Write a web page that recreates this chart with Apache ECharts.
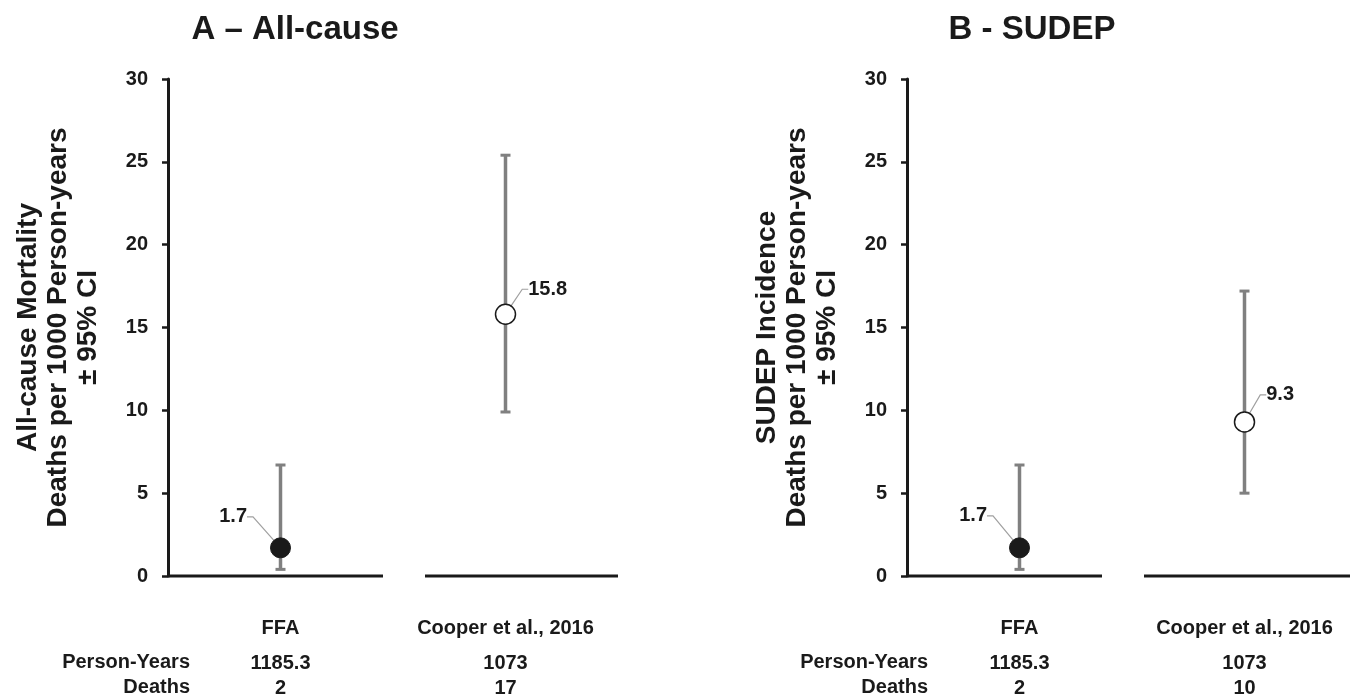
<!DOCTYPE html>
<html>
<head>
<meta charset="utf-8">
<script src="https://cdn.jsdelivr.net/npm/echarts@6/dist/echarts.min.js"></script>
<style>
  html, body { margin: 0; padding: 0; background: #fff; }
  #chart { width: 1350px; height: 699px; }
</style>
</head>
<body>
<div id="chart"></div>
<script>
const categories = ['FFA', 'Cooper et al., 2016']
const personYears = ['1185.3', '1073']

// A - all-cause mortality per 1000 person-years
const allCauseDeaths = [2, 17]
const allCauseRate = [1.7, 15.8]
const allCauseLow = [0.4, 9.9]
const allCauseHigh = [6.7, 25.4]

// B - SUDEP incidence per 1000 person-years
const sudepDeaths = [2, 10]
const sudepRate = [1.7, 9.3]
const sudepLow = [0.4, 5.0]
const sudepHigh = [6.7, 17.2]

const FONT = '"Liberation Sans", Arial, Helvetica, sans-serif'
const INK = '#1a1a1a'
const BAR = '#808080'

const chart = echarts.init(document.getElementById('chart'))

function errorBar(params, api) {
  const top = api.coord([api.value(0), api.value(2)])
  const bot = api.coord([api.value(0), api.value(1)])
  const cap = 5
  return {
    type: 'group',
    children: [
      { type: 'line', shape: { x1: top[0], y1: top[1], x2: bot[0], y2: bot[1] }, style: { stroke: BAR, lineWidth: 3.5 } },
      { type: 'line', shape: { x1: top[0] - cap, y1: top[1], x2: top[0] + cap, y2: top[1] }, style: { stroke: BAR, lineWidth: 3 } },
      { type: 'line', shape: { x1: bot[0] - cap, y1: bot[1], x2: bot[0] + cap, y2: bot[1] }, style: { stroke: BAR, lineWidth: 3 } }
    ]
  }
}

// broken baseline: one segment per category, with a gap between them
function baseline(gapLeft, gapRight) {
  return function (params, api) {
    const i = api.value(0)
    const c = api.coord([i, 0])
    const band = api.size([1, 0])[0]
    let x1 = c[0] - band / 2
    let x2 = c[0] + band / 2
    if (i === 0) x2 -= gapLeft
    else x1 += gapRight
    return {
      type: 'line',
      shape: { x1: x1, y1: c[1], x2: x2, y2: c[1] },
      style: { stroke: INK, lineWidth: 3 }
    }
  }
}

function xAxis(gridIndex, deaths) {
  return {
    type: 'category',
    gridIndex: gridIndex,
    data: categories,
    axisLine: { show: false },
    axisTick: { show: false },
    axisLabel: {
      margin: 30,
      interval: 0,
      formatter: (v, i) => `{n|${v}}\n{p|${personYears[i]}}\n{d|${deaths[i]}}`,
      rich: {
        n: { fontFamily: FONT, fontWeight: 'bold', fontSize: 20, color: INK, lineHeight: 45 },
        p: { fontFamily: FONT, fontWeight: 'bold', fontSize: 20, color: INK, lineHeight: 25 },
        d: { fontFamily: FONT, fontWeight: 'bold', fontSize: 20, color: INK, lineHeight: 25 }
      }
    }
  }
}

function yAxis(gridIndex, name) {
  return {
    type: 'value',
    gridIndex: gridIndex,
    min: 0,
    max: 30,
    interval: 5,
    name: name,
    nameLocation: 'middle',
    nameRotate: 90,
    nameGap: 65,
    nameTextStyle: { fontFamily: FONT, fontWeight: 'bold', fontSize: 28, color: INK, lineHeight: 30 },
    axisLine: { show: true, lineStyle: { color: INK, width: 3 } },
    axisTick: { show: true, length: 6, lineStyle: { color: INK, width: 2.5 } },
    axisLabel: { margin: 20, fontFamily: FONT, fontWeight: 'bold', fontSize: 20, color: INK },
    splitLine: { show: false }
  }
}

function points(idx, rates, labelOffsets) {
  return {
    type: 'scatter',
    xAxisIndex: idx,
    yAxisIndex: idx,
    z: 5,
    symbolSize: 20,
    data: rates.map((r, i) => ({
      value: [i, r],
      itemStyle: i === 0
        ? { color: INK, borderColor: INK, borderWidth: 1, opacity: 1 }
        : { color: '#fff', borderColor: INK, borderWidth: 1.5, opacity: 1 },
      label: { position: i === 0 ? 'left' : 'right' }
    })),
    label: {
      show: true,
      distance: 8,
      formatter: p => p.value[1].toFixed(1),
      fontFamily: FONT,
      fontWeight: 'bold',
      fontSize: 20,
      color: INK
    },
    labelLayout: p => ({ dx: labelOffsets[p.dataIndex][0], dy: labelOffsets[p.dataIndex][1] }),
    labelLine: { show: true, length2: 6, lineStyle: { color: '#a0a0a0', width: 1.2 } }
  }
}

const data = (arr) => arr.map((v, i) => [i, v])

const option = {
  animation: false,
  backgroundColor: '#fff',
  title: [
    { text: 'A – All-cause', left: 290, top: 8, textAlign: 'center',
      textStyle: { fontFamily: FONT, fontWeight: 'bold', fontSize: 33, color: INK } },
    { text: 'B - SUDEP', left: 1027, top: 8, textAlign: 'center',
      textStyle: { fontFamily: FONT, fontWeight: 'bold', fontSize: 33, color: INK } }
  ],
  grid: [
    { left: 168, top: 79, width: 450, height: 497, outerBoundsMode: 'none' },
    { left: 907, top: 79, width: 450, height: 497, outerBoundsMode: 'none' }
  ],
  xAxis: [xAxis(0, allCauseDeaths), xAxis(1, sudepDeaths)],
  yAxis: [
    yAxis(0, 'All-cause Mortality\nDeaths per 1000 Person-years\n± 95% CI'),
    yAxis(1, 'SUDEP Incidence\nDeaths per 1000 Person-years\n± 95% CI')
  ],
  graphic: [
    { type: 'text', right: 1350 - 190, top: 652, style: { text: 'Person-Years', fontFamily: FONT, fontWeight: 'bold', fontSize: 20, fill: INK } },
    { type: 'text', right: 1350 - 190, top: 677, style: { text: 'Deaths', fontFamily: FONT, fontWeight: 'bold', fontSize: 20, fill: INK } },
    { type: 'text', right: 1350 - 928, top: 652, style: { text: 'Person-Years', fontFamily: FONT, fontWeight: 'bold', fontSize: 20, fill: INK } },
    { type: 'text', right: 1350 - 928, top: 677, style: { text: 'Deaths', fontFamily: FONT, fontWeight: 'bold', fontSize: 20, fill: INK } }
  ],
  series: [
    { type: 'custom', xAxisIndex: 0, yAxisIndex: 0, renderItem: baseline(10, 32), data: data([0, 0]), silent: true },
    { type: 'custom', xAxisIndex: 0, yAxisIndex: 0, renderItem: errorBar, z: 3,
      data: categories.map((c, i) => [i, allCauseLow[i], allCauseHigh[i]]) },
    points(0, allCauseRate, [[-15, -31], [4, -25]]),

    { type: 'custom', xAxisIndex: 1, yAxisIndex: 1, renderItem: baseline(30, 12), data: data([0, 0]), silent: true },
    { type: 'custom', xAxisIndex: 1, yAxisIndex: 1, renderItem: errorBar, z: 3,
      data: categories.map((c, i) => [i, sudepLow[i], sudepHigh[i]]) },
    points(1, sudepRate, [[-14, -32], [3, -27]])
  ]
}

chart.setOption(option)
window.addEventListener('resize', () => chart.resize())
</script>
</body>
</html>
